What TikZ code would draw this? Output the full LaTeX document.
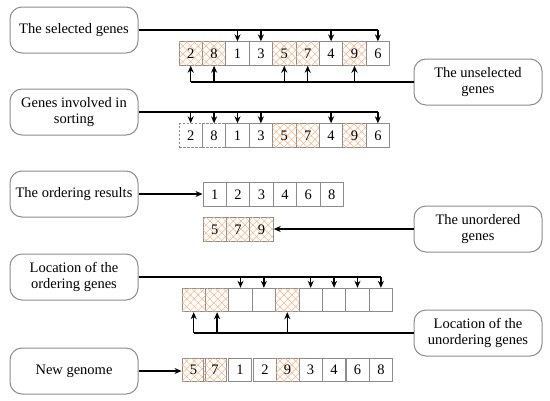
\documentclass[tikz,border=0pt]{standalone}
\usepackage{fontspec}
\setmainfont{Liberation Serif}
\newfontfamily\timesfont{Liberation Serif}
\usetikzlibrary{arrows.meta, patterns.meta}
\definecolor{boxgray}{gray}{0.55}
\definecolor{hatchorange}{RGB}{246,178,130}

\tikzset{
  label box/.style={draw=boxgray, line width=1pt, rounded corners=12pt, fill=white,
    minimum width=128pt, minimum height=46pt, align=center,
    font=\timesfont\fontsize{14.5}{15.5}\selectfont},
  cell/.style={draw=boxgray, line width=1pt, minimum width=23.4pt, minimum height=23.4pt,
    inner sep=0pt, font=\timesfont\fontsize{14.5}{15.5}\selectfont},
  hcell/.style={cell, postaction={pattern={Lines[angle=45,distance=5.5pt,line width=0.5pt]}, pattern color=hatchorange},
    postaction={pattern={Lines[angle=-45,distance=5.5pt,line width=0.5pt]}, pattern color=hatchorange}},
  dcell/.style={cell, dashed, dash pattern=on 2.5pt off 1.5pt},
}

\begin{document}
\begin{tikzpicture}[x=1pt, y=-1pt, line width=1.3pt, >={Stealth[length=7pt,width=6pt]}]
  \useasboundingbox (0,0) rectangle (550,400);

  % left and right label boxes
  \node[label box] (sel) at (74,30) {The selected genes};
  \node[label box] (unsel) at (478,82) {The unselected\\genes};
  \node[label box] (inv) at (74,112) {Genes involved in\\sorting};
  \node[label box] (ordres) at (74,194) {The ordering results};
  \node[label box] (unord) at (478,229) {The unordered\\genes};
  \node[label box] (locord) at (74,277) {Location of the\\ordering genes};
  \node[label box] (locunord) at (478,333) {Location of the\\unordering genes};
  \node[label box] (newg) at (74,371) {New genome};

  % rows of genes
  \foreach \v/\s [count=\i] in {2/hcell,8/hcell,1/cell,3/cell,5/hcell,7/hcell,4/cell,9/hcell,6/cell}
    \node[\s] (a\i) at ({190.7+(\i-1)*23.4},53.5) {\v};
  \foreach \v/\s [count=\i] in {2/dcell,8/dcell,1/cell,3/cell,5/hcell,7/hcell,4/cell,9/hcell,6/cell}
    \node[\s] (b\i) at ({190.7+(\i-1)*23.4},135.5) {\v};
  \foreach \v [count=\i] in {1,2,3,4,6,8}
    \node[cell] (c\i) at ({214.7+(\i-1)*23.4},194.5) {\v};
  \foreach \v [count=\i] in {5,7,9}
    \node[hcell] (d\i) at ({214.7+(\i-1)*23.4},229.5) {\v};
  \foreach \s [count=\i] in {hcell,hcell,cell,cell,hcell,cell,cell,cell,cell}
    \node[\s] (e\i) at ({193.7+(\i-1)*23.4},300) {};
  \foreach \v/\s/\x in {5/hcell/193.5,7/hcell/215,1/cell/240,2/cell/265,9/hcell/287.5,3/cell/310.5,4/cell/334,6/cell/357.5,8/cell/381}
    \node[\s, minimum width=23pt] (f\v) at (\x,370) {\v};

  % the selected / unselected genes
  \draw (sel.east) -- (sel.east -| a9.north);
  \foreach \i in {3,4,7,9}
    \draw[->] (sel.east -| a\i.north) -- (a\i.north);
  \draw (unsel.west) -- (unsel.west -| a1.south);
  \foreach \i in {1,2,5,6,8}
    \draw[->] (unsel.west -| a\i.south) -- (a\i.south);

  % genes involved in sorting
  \draw (inv.east) -- (inv.east -| b9.north);
  \foreach \i in {1,2,3,4,7,9}
    \draw[->] (inv.east -| b\i.north) -- (b\i.north);

  % ordering results
  \draw[->] (ordres.east) -- (ordres.east -| c1.west);
  \draw[->] (unord.west) -- (unord.west -| d3.east);

  % locations
  \draw (locord.east) -- (locord.east -| e9.north);
  \foreach \i in {3,4,6,7,8,9}
    \draw[->] (locord.east -| e\i.north) -- (e\i.north);
  \draw (locunord.west) -- (locunord.west -| e1.south);
  \foreach \i in {1,2,5}
    \draw[->] (locunord.west -| e\i.south) -- (e\i.south);

  % new genome
  \draw[->] (newg.east) -- (newg.east -| f5.west);
\end{tikzpicture}
\end{document}
